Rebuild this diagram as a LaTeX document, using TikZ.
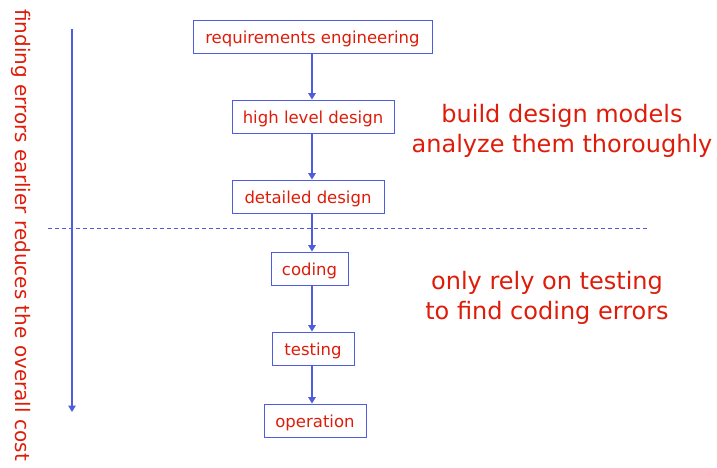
\documentclass[tikz,border=0pt]{standalone}
\usepackage{fontspec}
\setmainfont{DejaVu Sans}
\usetikzlibrary{arrows.meta}
\definecolor{txtred}{RGB}{222,28,10}
\definecolor{lineblue}{RGB}{80,92,222}
\tikzset{
  stagebox/.style={draw=lineblue, line width=0.9pt, inner sep=0pt, text=txtred,
    font=\fontsize{16.5}{19}\selectfont, minimum height=33pt,
    text height=17pt, text depth=3pt},
  flowarrow/.style={draw=lineblue, line width=1.4pt, -{Triangle[length=6.5pt,width=7.5pt]}},
  bigtext/.style={text=txtred, font=\fontsize{24}{30}\selectfont, align=center},
}
\begin{document}
\begin{tikzpicture}[x=1pt,y=-1pt]
\useasboundingbox (0,0) rectangle (717,467);
\node[stagebox, minimum width=239pt] (req) at (312.5,36.5) {requirements engineering};
\node[stagebox, minimum width=162pt] (hld) at (313,116.5) {high level design};
\node[stagebox, minimum width=152pt] (dd) at (308,196.5) {detailed design};
\node[stagebox, minimum width=77pt] (cod) at (309.5,268.5) {coding};
\node[stagebox, minimum width=82pt] (tst) at (313,348.5) {testing};
\node[stagebox, minimum width=102pt] (op) at (315,420.5) {operation};
\draw[flowarrow] (req.south -| 312,0) -- (hld.north -| 312,0);
\draw[flowarrow] (hld.south -| 312,0) -- (dd.north -| 312,0);
\draw[flowarrow] (dd.south -| 312,0) -- (cod.north -| 312,0);
\draw[flowarrow] (cod.south -| 312,0) -- (tst.north -| 312,0);
\draw[flowarrow] (tst.south -| 312,0) -- (op.north -| 312,0);
\coordinate (dl) at (48,228);
\coordinate (dr) at (648,228);
\draw[lineblue, dashed, dash pattern=on 4pt off 3pt, line width=0.7pt] (dl) -- (dr);
\coordinate (ltop) at (72,29);
\coordinate (lbot) at (72,412);
\draw[flowarrow] (ltop) -- (lbot);
\node[text=txtred, font=\fontsize{20}{24}\selectfont, rotate=-90] (side) at (21,235) {finding errors earlier reduces the overall cost};
\node[bigtext] (bd) at (562,131) {build design models\\analyze them thoroughly};
\node[bigtext] (tc) at (547,298) {only rely on testing\\to find coding errors};
\end{tikzpicture}
\end{document}
